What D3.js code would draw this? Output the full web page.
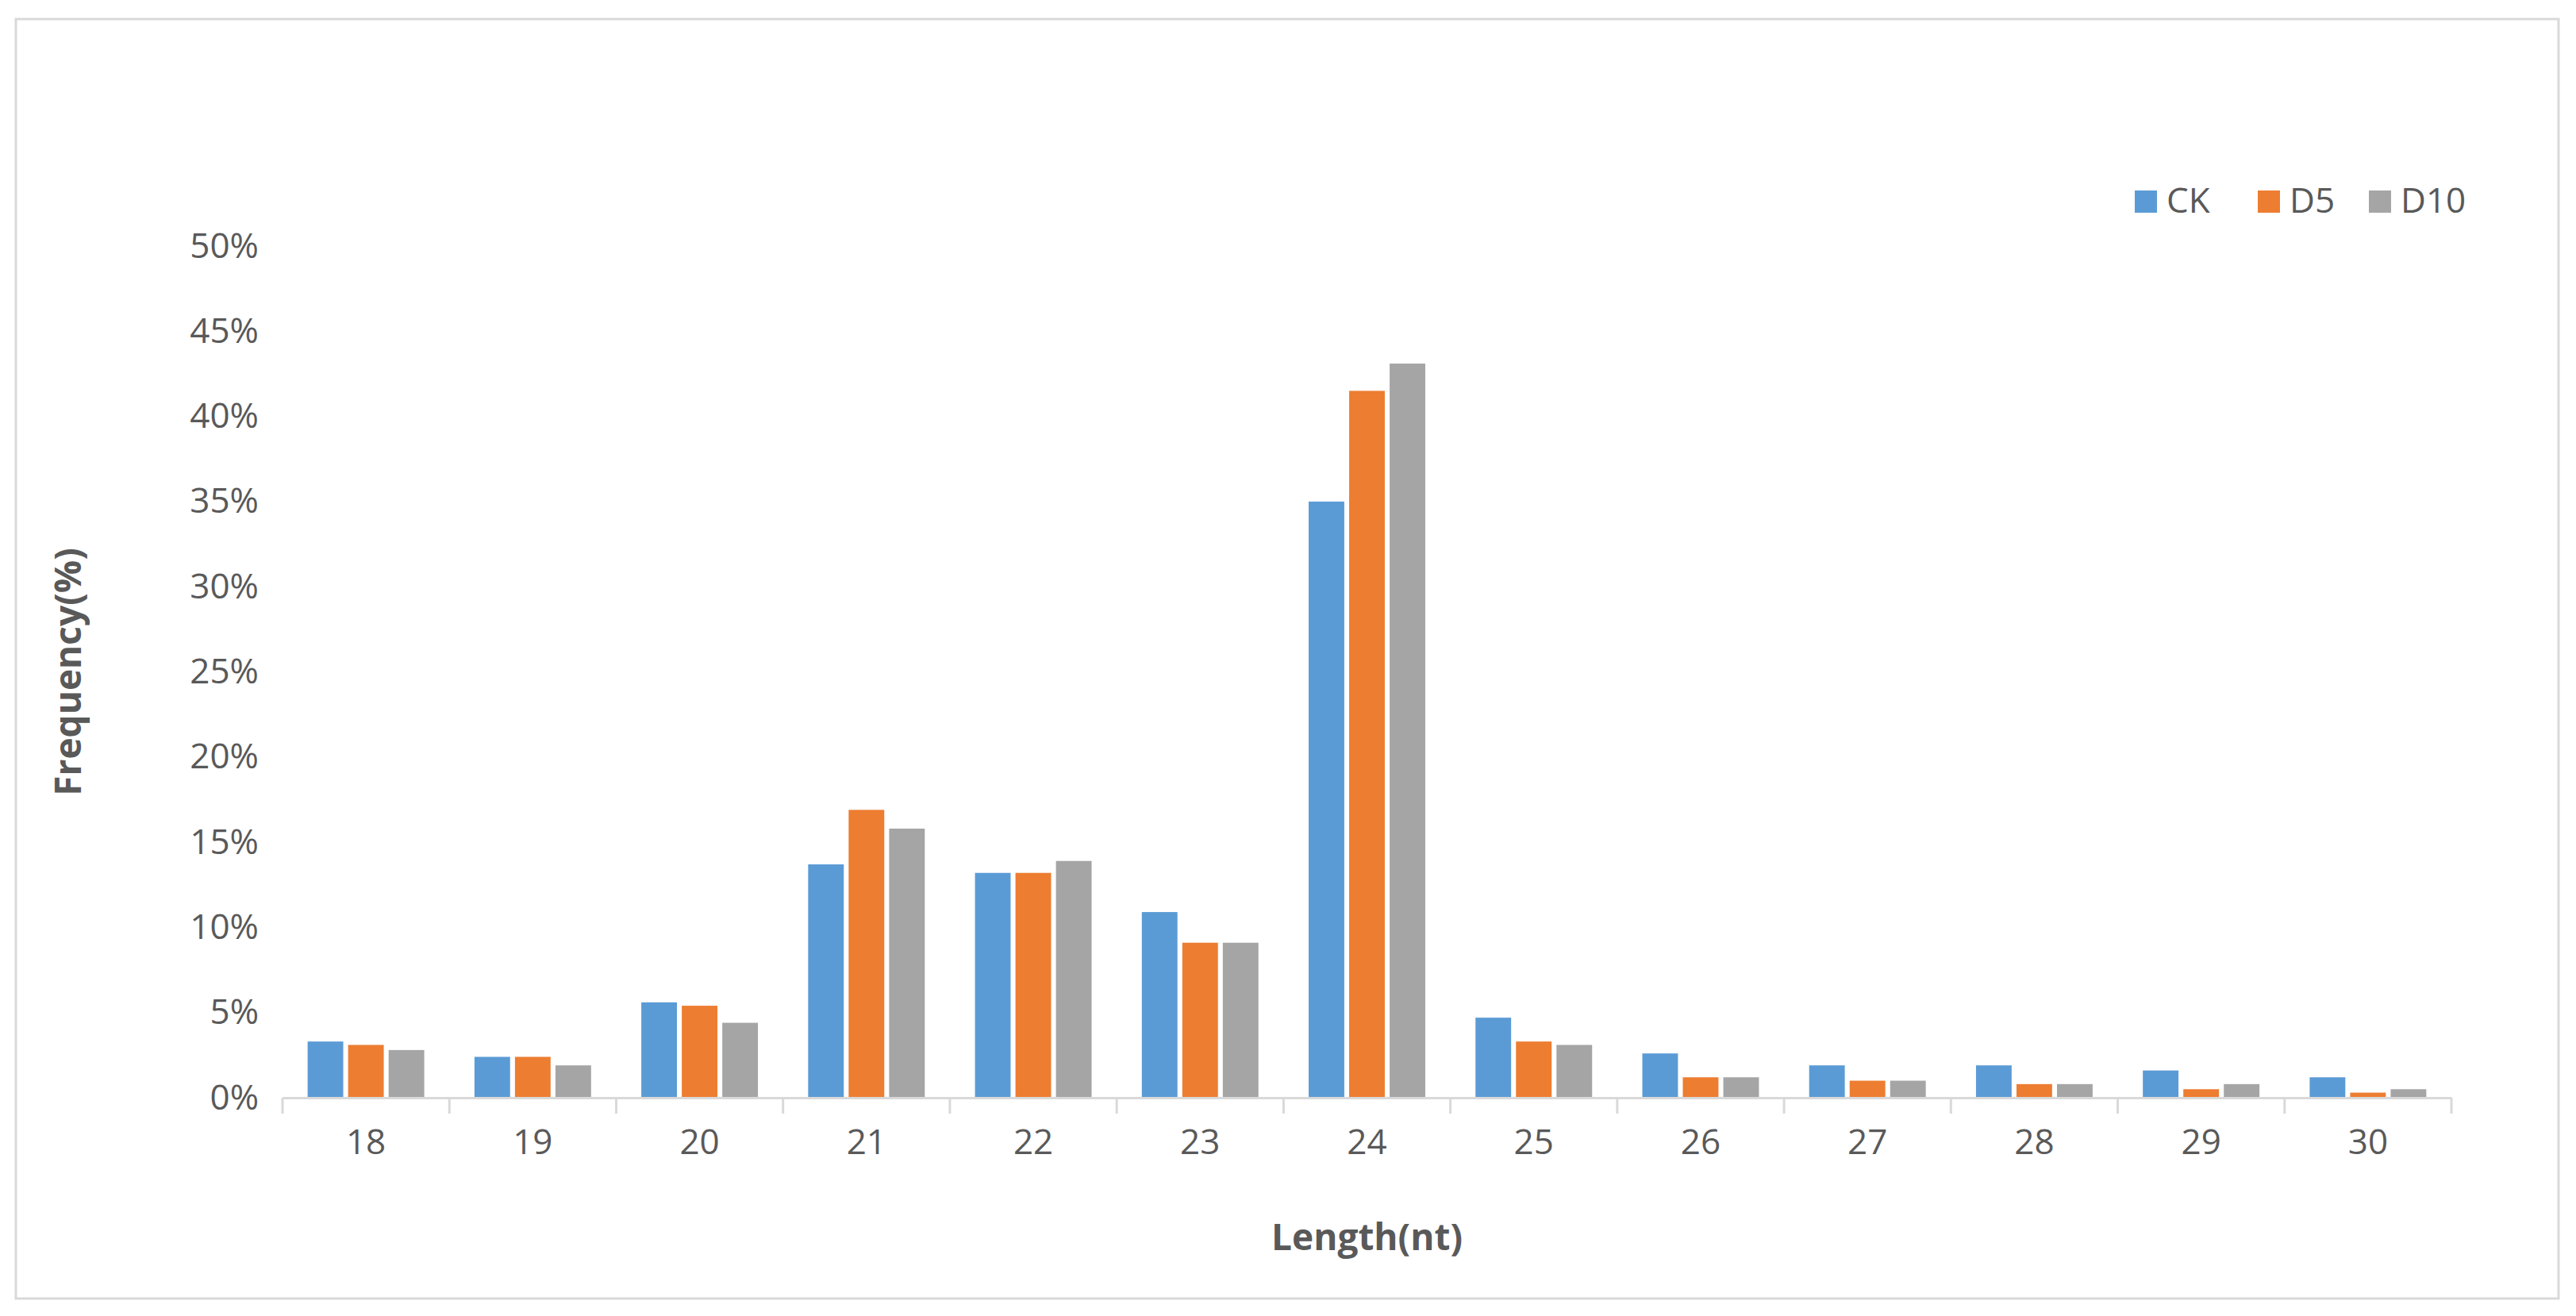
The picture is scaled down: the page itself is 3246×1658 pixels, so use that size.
<!DOCTYPE html>
<html><head><meta charset="utf-8">
<script src="https://cdn.jsdelivr.net/npm/d3@7"></script>
<style>body{margin:0;background:#fff}</style></head>
<body><svg id="c" width="3246" height="1658"></svg>
<script>
const categories = ["18","19","20","21","22","23","24","25","26","27","28","29","30"];
const seriesNames = ["CK","D5","D10"];
const CK  = [3.3,2.4,5.6,13.7,13.2,10.9,35.0,4.7,2.6,1.9,1.9,1.6,1.2];
const D5  = [3.1,2.4,5.4,16.9,13.2,9.1,41.5,3.3,1.2,1.0,0.8,0.5,0.3];
const D10 = [2.8,1.9,4.4,15.8,13.9,9.1,43.1,3.1,1.2,1.0,0.8,0.8,0.5];
const yTicks = [0,5,10,15,20,25,30,35,40,45,50];
const colors = ["#5B9BD5","#ED7D31","#A5A5A5"];
const series = [CK,D5,D10];

const svg = d3.select("#c");
const font = "'Open Sans', 'Noto Sans', sans-serif";
svg.append("rect").attr("x",20).attr("y",24).attr("width",3204).attr("height",1612)
  .attr("fill","#fff").attr("stroke","#d9d9d9").attr("stroke-width",3);

const L=356,R=3089,T=310,B=1383;
const x = d3.scaleBand().domain(categories).range([L,R]).paddingInner(0).paddingOuter(0);
const x1 = d3.scaleBand().domain(seriesNames).range([0,x.bandwidth()]).paddingInner(0.12).paddingOuter(0.62);
const y = d3.scaleLinear().domain([0,50]).range([B,T]);

const yAxis = svg.append("g").attr("transform",`translate(${L},0)`)
  .call(d3.axisLeft(y).tickValues(yTicks).tickFormat(d=>d+"%").tickSize(0).tickPadding(30));
yAxis.select(".domain").remove();
yAxis.selectAll("text").attr("font-family",font).attr("font-size",44).attr("fill","#595959");

series.forEach((s,i)=>{
  svg.append("g").selectAll("rect").data(s).join("rect")
    .attr("x",(d,j)=>x(categories[j])+x1(seriesNames[i]))
    .attr("width",x1.bandwidth())
    .attr("y",d=>y(d)).attr("height",d=>B-y(d))
    .attr("fill",colors[i]);
});

const xAxis = svg.append("g").attr("transform",`translate(0,${B})`)
  .call(d3.axisBottom(x).tickSize(0).tickPadding(40));
xAxis.select(".domain").attr("stroke","#d9d9d9").attr("stroke-width",3);
xAxis.selectAll("text").attr("font-family",font).attr("font-size",44).attr("fill","#595959");
svg.append("g").selectAll("line").data(categories.concat(["end"])).join("line")
  .attr("x1",(d,i)=>L+i*x.bandwidth()).attr("x2",(d,i)=>L+i*x.bandwidth())
  .attr("y1",B).attr("y2",B+20).attr("stroke","#d9d9d9").attr("stroke-width",3);

svg.append("text").attr("x",(L+R)/2).attr("y",1575).attr("text-anchor","middle")
  .attr("font-family",font).attr("font-size",46).attr("font-weight","bold").attr("fill","#595959").text("Length(nt)");
svg.append("text").attr("transform",`translate(102,${(T+B)/2}) rotate(-90)`).attr("text-anchor","middle")
  .attr("font-family",font).attr("font-size",46).attr("font-weight","bold").attr("fill","#595959").text("Frequency(%)");

const lx=[2690,2845,2985];
seriesNames.forEach((n,i)=>{
  svg.append("rect").attr("x",lx[i]).attr("y",240).attr("width",28).attr("height",28).attr("fill",colors[i]);
  svg.append("text").attr("x",lx[i]+40).attr("y",268).attr("font-family",font).attr("font-size",44)
    .attr("fill","#595959").text(n);
});
</script></body></html>
